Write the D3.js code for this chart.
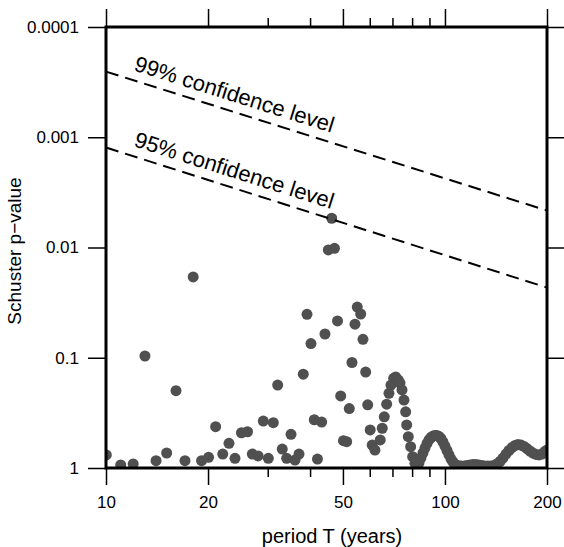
<!DOCTYPE html>
<html>
<head>
<meta charset="utf-8">
<script src="https://cdn.jsdelivr.net/npm/d3@7"></script>
<style>
  body { margin: 0; background: #fff; }
  text { font-family: "Liberation Sans", Arial, Helvetica, sans-serif; fill: #000; }
</style>
</head>
<body>
<div id="chart"></div>
<script>
// Schuster periodogram p-values against period

// period T (years) of each test
const periods = [
  10.02, 11.05, 12.03, 13.03, 14.05, 15.10, 16.09, 17.10, 18.08, 19.14,
  20.07, 21.06, 22.10, 23.06, 24.02, 25.10, 26.15, 27.02, 28.10, 29.11,
  30.12, 31.16, 32.10, 33.11, 34.12, 35.14, 36.11, 37.10, 38.19, 39.17,
  40.24, 41.16, 42.06, 43.28, 44.26, 45.27, 46.33, 47.21, 48.19, 49.25,
  50.19, 51.29, 52.21, 53.17, 54.27, 55.12, 56.41, 57.30, 58.36, 59.16,
  60.17, 60.99, 62.15, 64.42, 65.31, 66.21, 67.30, 68.36, 69.29, 70.58,
  71.55, 72.82, 73.68, 74.69, 75.70, 76.57, 77.10, 77.95, 79.21, 80.30,
  81.55, 82.68, 83.81, 84.96, 86.12, 87.30, 88.50, 89.71, 90.94, 92.18,
  93.44, 94.72, 96.01, 97.32, 98.65, 100.0, 101.4, 102.8, 104.2, 105.6,
  107.0, 109.2, 111.5, 113.8, 116.1, 118.5, 120.9, 123.4, 126.0, 128.6,
  131.2, 133.9, 136.7, 139.5, 142.3, 145.3, 148.3, 151.3, 154.4, 157.6,
  160.9, 164.2, 167.6, 171.0, 174.6, 178.1, 181.8, 185.6, 189.4, 193.3,
  197.2, 200.0
];

// Schuster p-value for each period
const pValues = [
  0.762, 0.939, 0.920, 0.0964, 0.859, 0.731, 0.199, 0.859, 0.0185, 0.859,
  0.800, 0.422, 0.747, 0.597, 0.817, 0.479, 0.469, 0.747, 0.778, 0.375,
  0.817, 0.388, 0.177, 0.673, 0.817, 0.495, 0.846, 0.747, 0.141, 0.0404,
  0.0743, 0.365, 0.829, 0.383, 0.0609, 0.01053, 0.00543, 0.01017, 0.0464, 0.222,
  0.565, 0.577, 0.289, 0.1104, 0.0496, 0.0347, 0.0401, 0.0680, 0.135, 0.267,
  0.452, 0.619, 0.687, 0.557, 0.436, 0.343, 0.264, 0.210, 0.177, 0.1536,
  0.1495, 0.159, 0.1695, 0.196, 0.242, 0.309, 0.407, 0.520, 0.641, 0.790,
  0.906, 0.939, 0.901, 0.812, 0.731, 0.659, 0.599, 0.557, 0.529, 0.513,
  0.507, 0.507, 0.518, 0.540, 0.581, 0.632, 0.694, 0.762, 0.829, 0.882,
  0.930, 0.949, 0.959, 0.959, 0.949, 0.939, 0.930, 0.930, 0.939, 0.949,
  0.959, 0.959, 0.959, 0.949, 0.920, 0.873, 0.812, 0.747, 0.694, 0.652,
  0.625, 0.612, 0.619, 0.638, 0.666, 0.701, 0.731, 0.754, 0.762, 0.747,
  0.708, 0.687
];

// confidence levels: p threshold at the two ends of the period range
const confPeriods = [10, 200];
const conf99 = [0.000254, 0.00462];
const conf95 = [0.00124, 0.0231];
const confLabels = ["99% confidence level", "95% confidence level"];

// axis ticks
const xMajorTicks = [10, 20, 50, 100, 200];
const xMinorTicks = [30, 40, 60, 70, 80, 90];
const yTicks = [1, 0.1, 0.01, 0.001, 0.0001];
const yTickLabels = ["1", "0.1", "0.01", "0.001", "0.0001"];

const width = 564, height = 547;
const plotLeft = 106, plotRight = 547, plotTop = 27, plotBottom = 468;

const svg = d3.select('#chart').append('svg')
  .attr('width', width)
  .attr('height', height);

const x = d3.scaleLog().domain([10, 200]).range([plotLeft, plotRight]);
const y = d3.scaleLog().domain([1, 0.0001]).range([plotBottom, plotTop]);

svg.append('defs').append('clipPath').attr('id', 'plot-clip')
  .append('rect')
  .attr('x', plotLeft).attr('y', plotTop)
  .attr('width', plotRight - plotLeft).attr('height', plotBottom - plotTop);

// ticks
function styleAxis(g) {
  g.select('.domain').remove();
  g.selectAll('.tick line').attr('stroke', '#000').attr('stroke-width', 1.5);
  g.selectAll('.tick text').style('font-size', '17px')
    .style('font-family', '"Liberation Sans", Arial, sans-serif');
}

svg.append('g')
  .attr('transform', `translate(0,${plotBottom})`)
  .call(d3.axisBottom(x).tickValues(xMajorTicks).tickFormat(d3.format('d'))
    .tickSize(17).tickPadding(11))
  .call(styleAxis);
svg.append('g')
  .attr('transform', `translate(0,${plotBottom})`)
  .call(d3.axisBottom(x).tickValues(xMinorTicks).tickFormat('').tickSize(9))
  .call(styleAxis);
svg.append('g')
  .attr('transform', `translate(0,${plotTop})`)
  .call(d3.axisTop(x).tickValues(xMajorTicks).tickFormat('').tickSize(18))
  .call(styleAxis);
svg.append('g')
  .attr('transform', `translate(0,${plotTop})`)
  .call(d3.axisTop(x).tickValues(xMinorTicks).tickFormat('').tickSize(9))
  .call(styleAxis);
svg.append('g')
  .attr('transform', `translate(${plotLeft},0)`)
  .call(d3.axisLeft(y).tickValues(yTicks)
    .tickFormat((d, i) => yTickLabels[i]).tickSize(18).tickPadding(9))
  .call(styleAxis);
svg.append('g')
  .attr('transform', `translate(${plotRight},0)`)
  .call(d3.axisRight(y).tickValues(yTicks).tickFormat('').tickSize(18))
  .call(styleAxis);

// points
svg.append('g')
  .attr('clip-path', 'url(#plot-clip)')
  .selectAll('circle')
  .data(periods)
  .enter().append('circle')
  .attr('cx', d => x(d))
  .attr('cy', (d, i) => y(pValues[i]))
  .attr('r', 5.5)
  .attr('fill', '#505050');

// confidence lines and labels
[conf99, conf95].forEach((conf, k) => {
  const x0 = x(confPeriods[0]), x1 = x(confPeriods[1]);
  const y0 = y(conf[0]), y1 = y(conf[1]);
  svg.append('line')
    .attr('x1', x0).attr('y1', y0)
    .attr('x2', x1).attr('y2', y1)
    .attr('stroke', '#000')
    .attr('stroke-width', 2)
    .attr('stroke-dasharray', '13,7');
  const angle = Math.atan2(y1 - y0, x1 - x0) * 180 / Math.PI;
  const tx = x0 + 27;
  const ty = y0 + (y1 - y0) * (tx - x0) / (x1 - x0) - 10;
  svg.append('text')
    .attr('transform', `translate(${tx},${ty}) rotate(${angle})`)
    .style('font-size', '22px')
    .text(confLabels[k]);
});

// frame
svg.append('rect')
  .attr('x', plotLeft).attr('y', plotTop)
  .attr('width', plotRight - plotLeft).attr('height', plotBottom - plotTop)
  .attr('fill', 'none')
  .attr('stroke', '#000')
  .attr('stroke-width', 3);

// axis titles
svg.append('text')
  .attr('x', 332).attr('y', 543)
  .attr('text-anchor', 'middle')
  .style('font-size', '20px')
  .text('period T (years)');

svg.append('text')
  .attr('transform', 'translate(21,251) rotate(-90)')
  .attr('text-anchor', 'middle')
  .style('font-size', '19px')
  .text('Schuster p\u2212value');
</script>
</body>
</html>
